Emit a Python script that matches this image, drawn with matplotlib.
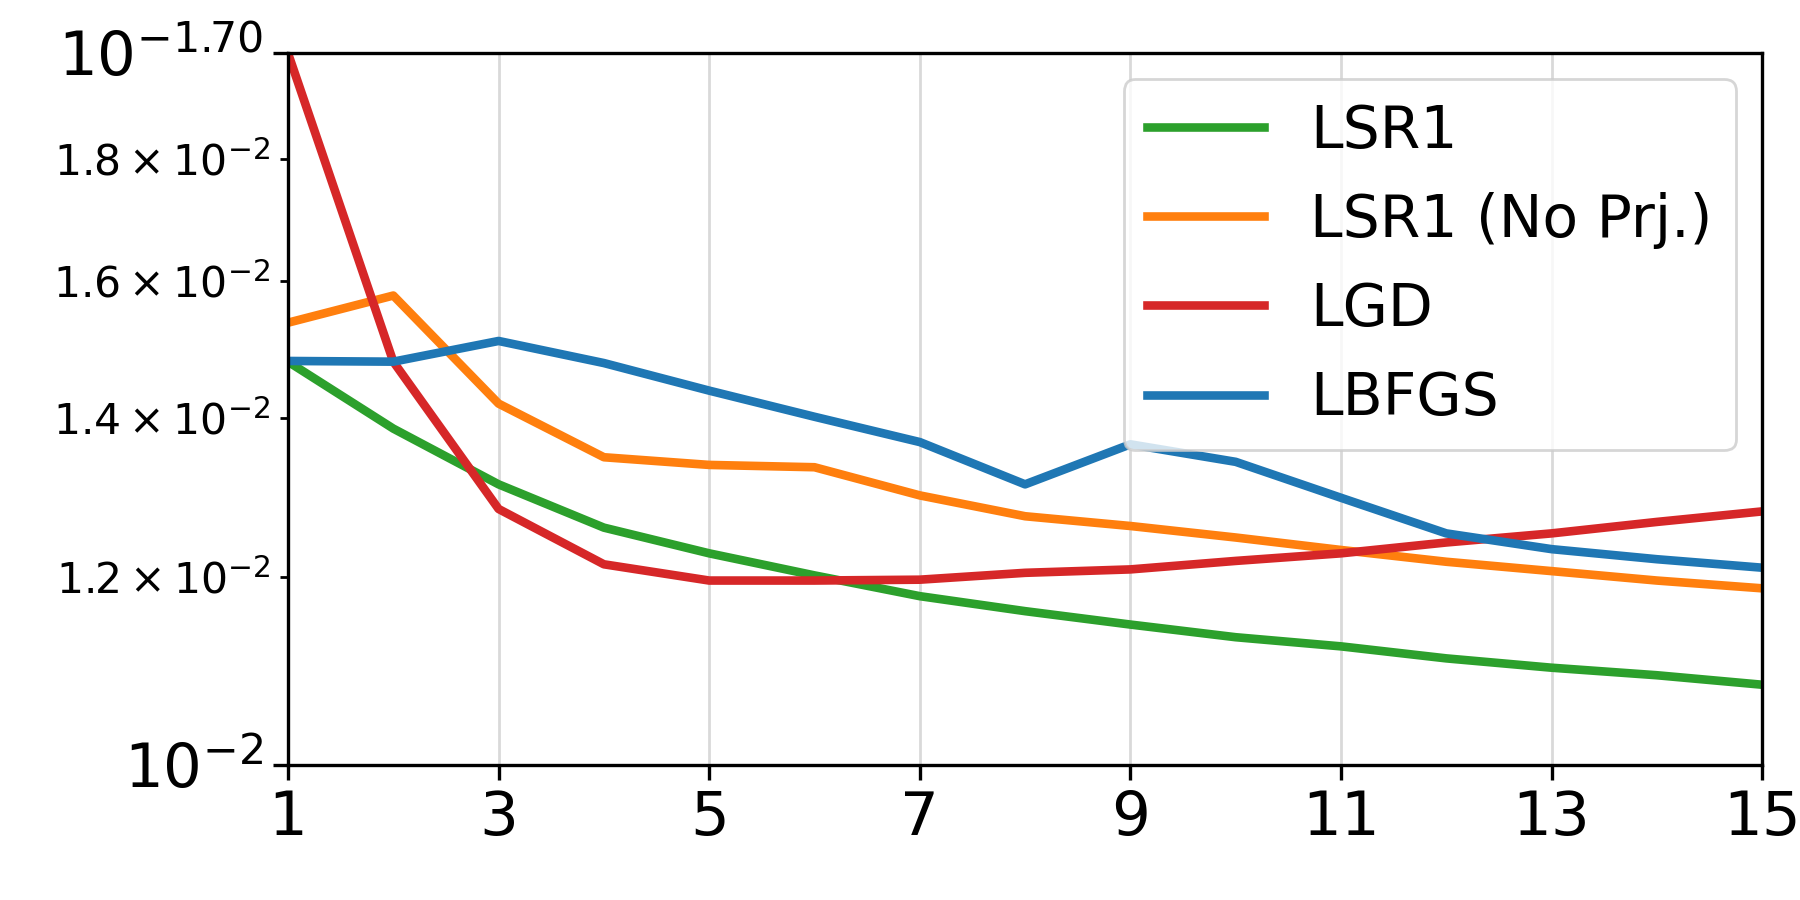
import matplotlib
matplotlib.use("Agg")
from matplotlib import pyplot as plt
from matplotlib import ticker

iters = list(range(1, 16))
lsr1 = [0.01479, 0.01386, 0.01313, 0.01259, 0.01228, 0.01202, 0.01178, 0.01161,
        0.01146, 0.01132, 0.01122, 0.01109, 0.01099, 0.01091, 0.01081]
lsr1_noprj = [0.01536, 0.01577, 0.01420, 0.01348, 0.01338, 0.01335, 0.01299, 0.01273,
              0.01261, 0.01247, 0.01232, 0.01218, 0.01207, 0.01196, 0.01187]
lgd = [0.01995, 0.01479, 0.01282, 0.01215, 0.01196, 0.01196, 0.01197, 0.01205,
       0.01209, 0.01219, 0.01228, 0.01241, 0.01252, 0.01266, 0.01279]
lbfgs = [0.01480, 0.01479, 0.01509, 0.01477, 0.01438, 0.01402, 0.01368, 0.01313,
         0.01365, 0.01342, 0.01296, 0.01252, 0.01233, 0.01221, 0.01211]
xticks = [1, 3, 5, 7, 9, 11, 13, 15]

fig = plt.figure(figsize=(9, 4.5), dpi=200)
ax = fig.add_axes([0.16, 0.15, 0.819, 0.791])

lw = 3.1
ax.plot(iters, lsr1, color="tab:green", lw=lw, label="LSR1")
ax.plot(iters, lsr1_noprj, color="tab:orange", lw=lw, label="LSR1 (No Prj.)")
ax.plot(iters, lgd, color="tab:red", lw=lw, label="LGD")
ax.plot(iters, lbfgs, color="tab:blue", lw=lw, label="LBFGS")

ax.set_yscale("log")
ax.set_ylim(1e-2, 10 ** -1.7)
ax.set_xlim(1, 15)
ax.set_xticks(xticks)
ax.set_yticks([1e-2, 10 ** -1.7])
ax.yaxis.set_major_formatter(ticker.LogFormatterMathtext())
ax.tick_params(axis="both", which="major", labelsize=22, length=5.3, width=1.2)
ax.tick_params(axis="y", which="minor", labelsize=15.3, length=3.0, width=1.0)
for s in ax.spines.values():
    s.set_linewidth(1.2)

ax.grid(axis="x", color="#d9d9d9", lw=1.0)
ax.set_axisbelow(True)

ax.legend(loc="upper right", fontsize=21, handlelength=2.0, borderaxespad=0.45,
          labelspacing=0.55, edgecolor="#cccccc")

fig.savefig("out.png", dpi=200)
